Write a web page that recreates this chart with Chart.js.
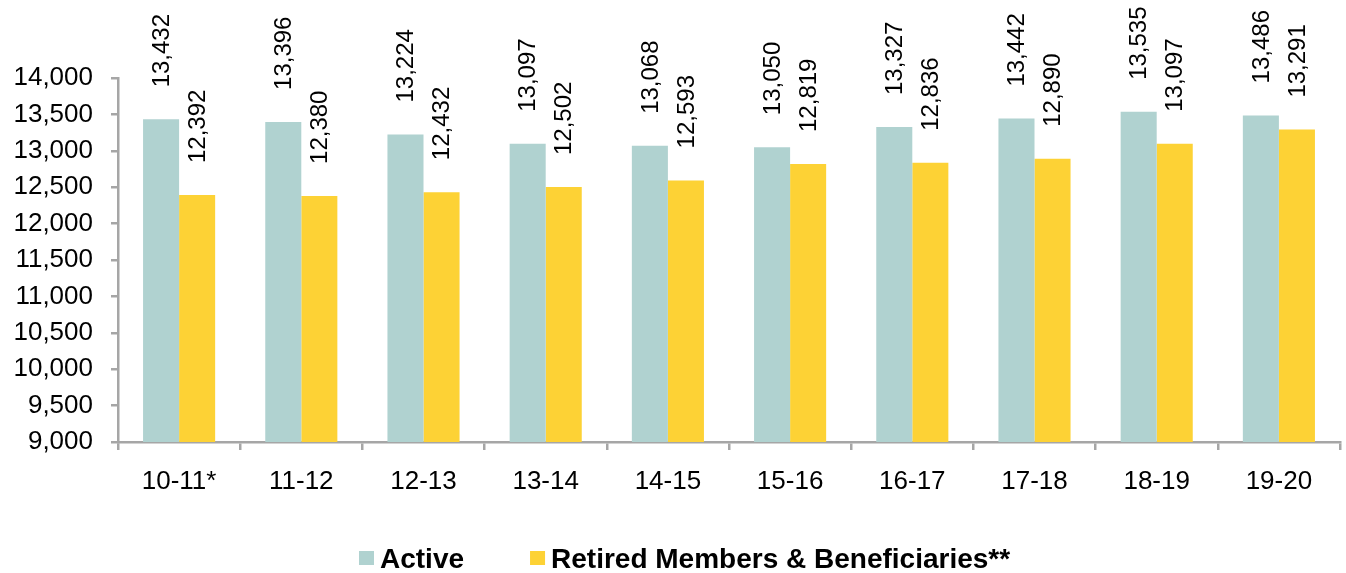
<!DOCTYPE html>
<html>
<head>
<meta charset="utf-8">
<script src="https://cdn.jsdelivr.net/npm/chart.js@4/dist/chart.umd.min.js"></script>
<style>
    html, body { margin: 0; padding: 0; background: #fff; }
    #wrap { width: 1346px; height: 573px; }
</style>
</head>
<body>
<div id="wrap"><canvas id="membersChart" width="1346" height="573"></canvas></div>
<script>
/* ── data ─────────────────────────────────────────────── */
const years = ['10-11*', '11-12', '12-13', '13-14', '14-15', '15-16', '16-17', '17-18', '18-19', '19-20'];
const activeMembers = [13432, 13396, 13224, 13097, 13068, 13050, 13327, 13442, 13535, 13486];
const retiredMembers = [12392, 12380, 12432, 12502, 12593, 12819, 12836, 12890, 13097, 13291];
const seriesNames = ['Active', 'Retired Members & Beneficiaries**'];
const yMin = 9000, yMax = 14000, yStep = 500;

const FONT = '"Liberation Sans", Arial, sans-serif';
const AXIS_GREY = '#A6A6A6';
const colors = { active: '#B0D2D0', retired: '#FDD235' };

const fmt = v => v.toLocaleString('en-US');

// rotated value labels sitting above each bar
const barLabels = {
    id: 'barLabels',
    afterDatasetsDraw(chart) {
        const ctx = chart.ctx;
        ctx.save();
        ctx.font = '24px ' + FONT;
        ctx.fillStyle = '#000';
        ctx.textAlign = 'left';
        ctx.textBaseline = 'middle';
        chart.data.datasets.forEach((ds, di) => {
            chart.getDatasetMeta(di).data.forEach((bar, i) => {
                ctx.save();
                ctx.translate(bar.x + 1, bar.y - 32);
                ctx.rotate(-Math.PI / 2);
                ctx.fillText(fmt(ds.data[i]), 0, 0);
                ctx.restore();
            });
        });
        ctx.restore();
    }
};

// legend drawn by hand so it can sit left of centre like the original
const customLegend = {
    id: 'customLegend',
    afterDraw(chart) {
        const ctx = chart.ctx;
        ctx.save();
        ctx.font = 'bold 28px ' + FONT;
        ctx.textBaseline = 'middle';
        ctx.textAlign = 'left';
        let x = 359;
        const y = 559;
        chart.data.datasets.forEach(ds => {
            ctx.fillStyle = ds.backgroundColor;
            ctx.fillRect(x, y - 8, 15, 14);
            ctx.fillStyle = '#000';
            ctx.fillText(ds.label, x + 21, y + 1);
            x += 21 + ctx.measureText(ds.label).width + 66;
        });
        ctx.restore();
    }
};

new Chart(document.getElementById('membersChart'), {
    type: 'bar',
    data: {
        labels: years,
        datasets: [
            { label: seriesNames[0], data: activeMembers, backgroundColor: colors.active },
            { label: seriesNames[1], data: retiredMembers, backgroundColor: colors.retired }
        ]
    },
    options: {
        responsive: false,
        animation: false,
        datasets: { bar: { categoryPercentage: 0.59, barPercentage: 1.0 } },
        layout: { padding: { top: 78, right: 6, bottom: 0, left: 0 } },
        plugins: {
            legend: { display: false },
            tooltip: { enabled: false }
        },
        scales: {
            x: {
                grid: {
                    offset: true,
                    drawOnChartArea: false,
                    drawTicks: true,
                    tickLength: 8,
                    color: AXIS_GREY,
                    lineWidth: 2.5
                },
                border: { color: AXIS_GREY, width: 2.5 },
                ticks: { color: '#000', font: { family: FONT, size: 26 }, padding: 16, maxRotation: 0 },
                afterFit(scale) { scale.height = 131; }
            },
            y: {
                min: yMin,
                max: yMax,
                grid: {
                    drawOnChartArea: false,
                    drawTicks: true,
                    tickLength: 7,
                    color: AXIS_GREY,
                    lineWidth: 2.5
                },
                border: { color: AXIS_GREY, width: 2.5 },
                ticks: {
                    stepSize: yStep,
                    color: '#000',
                    font: { family: FONT, size: 26 },
                    padding: 18,
                    callback: v => fmt(v)
                },
                afterFit(scale) { scale.width = 118; }
            }
        }
    },
    plugins: [barLabels, customLegend]
});
</script>
</body>
</html>
